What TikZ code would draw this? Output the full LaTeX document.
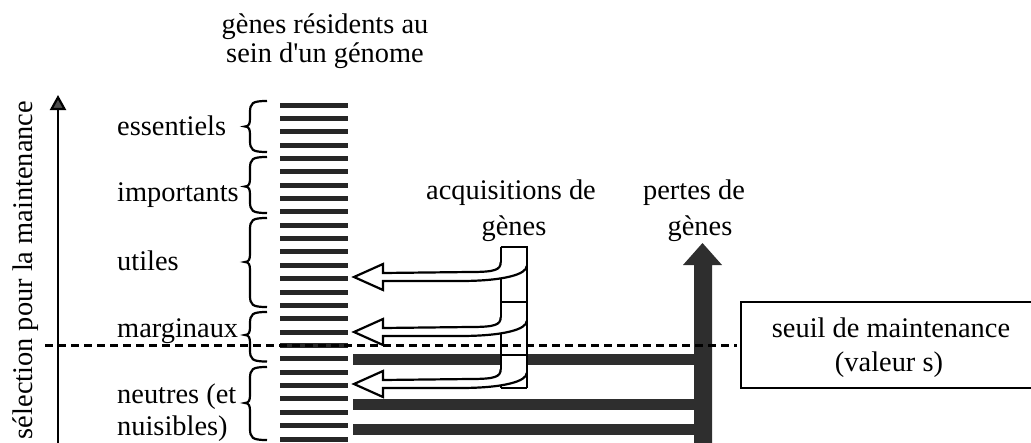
\documentclass[tikz,border=0pt]{standalone}
\usepackage{fontspec}
\setmainfont{Liberation Serif}
\newfontfamily\rawserif{Liberation Serif}
\usetikzlibrary{arrows.meta}
\newcommand\gbrace[3]{%
  \draw[brc] (267,#1) .. controls (252,#1) and (250,#1+2) .. (250,#1+12) -- (250,#2-8)
    .. controls (250,#2-3) and (249,#2) .. (245,#2)
    .. controls (249,#2) and (250,#2+3) .. (250,#2+8) -- (250,#3-12)
    .. controls (250,#3-2) and (252,#3) .. (267,#3);}
\newcommand\acqarrow[1]{%
  \fill[white] (500.7,#1-15) .. controls (500.7,#1-7) and (495,#1-5) .. (470,#1-5) -- (383,#1-4)
    -- (383,#1-13) -- (354,#1) -- (383,#1+13) -- (383,#1+4) -- (460,#1+4)
    .. controls (505,#1+4) and (526.7,#1-3) .. (526.7,#1-11) -- (526.7,#1-15) -- cycle;
  \draw[acq] (500.7,#1-15) .. controls (500.7,#1-7) and (495,#1-5) .. (470,#1-5) -- (383,#1-4)
    -- (383,#1-13) -- (354,#1) -- (383,#1+13) -- (383,#1+4) -- (460,#1+4)
    .. controls (505,#1+4) and (526.7,#1-3) .. (526.7,#1-11);}
\begin{document}
\begin{tikzpicture}[x=1pt,y=-1pt,
  txt/.style={inner sep=0pt, font=\fontsize{28.4}{32}\selectfont},
  lbl/.style={txt, anchor=base west},
  ctext/.style={txt, anchor=base},
  brc/.style={line width=2.2pt},
  genebar/.style={fill=black!85, draw=none},
  lossfill/.style={fill=black!82, draw=none},
  acq/.style={line width=2.2pt, line join=miter},
  bandline/.style={line width=2.2pt},
  thr/.style={line width=2.3pt, dash pattern=on 8pt off 5pt},
  axisline/.style={line width=2.2pt, -{Triangle[length=15pt,width=16pt,fill=black!70]}}
]
\useasboundingbox (0,0) rectangle (1031,442);

% axis
\coordinate (axisbot) at (58,450);
\coordinate (axistop) at (58,95);
\draw[axisline] (axisbot) -- (axistop);
\node[txt, rotate=90, anchor=base] (axislabel) at (32,270) {sélection pour la maintenance};

% title
\node[ctext] (title1) at (325,33.5) {gènes résidents au};
\node[ctext] (title2) at (325,62.7) {\rawserif sein d'un génome};

% category labels
\node[lbl] (essentiels) at (117,135) {essentiels};
\node[lbl] (importants) at (117,201) {importants};
\node[lbl] (utiles) at (117,270) {utiles};
\node[lbl] (marginaux) at (117,337) {marginaux};
\node[lbl] (neutres) at (117,403) {neutres (et};
\node[lbl] (nuisibles) at (117,435) {nuisibles)};

% braces
\gbrace{101}{126.5}{152}
\gbrace{157}{186.5}{213}
\gbrace{218}{262}{307}
\gbrace{312}{335}{361.5}
\gbrace{367}{403}{440}

% gene bars
\foreach \k in {0,...,25}
  \fill[genebar] (280,{102.5+13.36*\k}) rectangle (348,{107.5+13.36*\k});

% loss bars and loss arrow
\fill[lossfill] (353,353.5) rectangle (703,364.5);
\fill[lossfill] (353,399) rectangle (703,409.5);
\fill[lossfill] (353,424) rectangle (703,435);
\fill[lossfill] (694,450) -- (694,265) -- (683,265) -- (702.5,243) -- (722,265) -- (712,265) -- (712,450) -- cycle;

% acquisition band
\fill[white] (500.7,247) rectangle (526.7,388.3);
\draw[bandline] (500.7,247) -- (500.7,388.3);
\draw[bandline] (500.7,301.7) -- (526.7,301.7);
\draw[bandline] (500.7,355) -- (526.7,355);
\draw[bandline] (500.7,388.3) -- (526.7,388.3);
\acqarrow{277}
\acqarrow{332}
\acqarrow{384}
\draw[bandline] (500.7,247) -- (526.7,247) -- (526.7,388.3);

\node[ctext] (acq1) at (511,199) {acquisitions de};
\node[ctext] (acq2) at (514,235) {gènes};
\node[ctext] (loss1) at (694,199) {pertes de};
\node[ctext] (loss2) at (700,235) {gènes};

% threshold
\node[draw, line width=2.2pt, anchor=north west, minimum width=320pt, minimum height=86pt, inner sep=0pt] (seuilbox) at (740,300.5) {};
\coordinate (thrL) at (45,345.5);
\coordinate (thrR) at (737,345.5);
\draw[thr] (thrL) -- (thrR);
\node[ctext] (seuil1) at (891,337) {seuil de maintenance};
\node[ctext] (seuil2) at (889,371) {(valeur s)};
\end{tikzpicture}
\end{document}
